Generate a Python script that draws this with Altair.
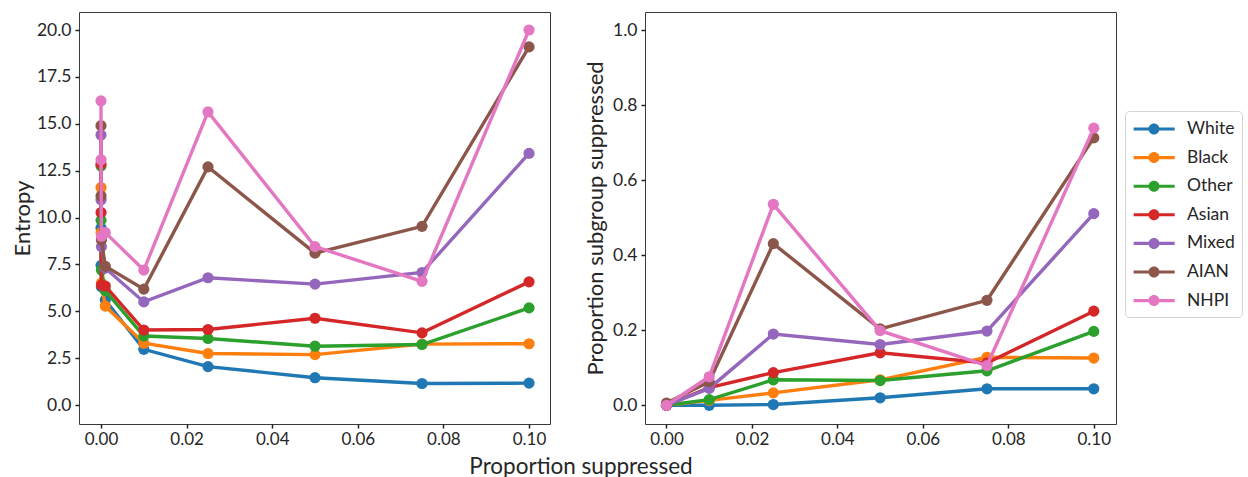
import altair as alt
import pandas as pd

FONT = "Lato"
TEXT = "#262626"

GROUPS = ["White", "Black", "Other", "Asian", "Mixed", "AIAN", "NHPI"]
COLORS = ["#1f77b4", "#ff7f0e", "#2ca02c", "#d62728", "#9467bd", "#8c564b", "#e377c2"]

# Left panel: entropy by proportion suppressed
entropy_x = [0.0, 0.00001, 0.0001, 0.001, 0.01, 0.025, 0.05, 0.075, 0.1]
entropy_white = [9.45, 7.45, 6.3, 5.6, 2.97, 2.05, 1.46, 1.15, 1.17]
entropy_black = [11.6, 9.2, 6.5, 5.28, 3.3, 2.75, 2.69, 3.25, 3.27]
entropy_other = [12.75, 9.85, 7.2, 6.1, 3.68, 3.55, 3.14, 3.23, 5.18]
entropy_asian = [12.85, 10.27, 6.4, 6.35, 4.0, 4.03, 4.63, 3.85, 6.57]
entropy_mixed = [14.4, 10.95, 8.45, 7.3, 5.5, 6.79, 6.45, 7.07, 13.42]
entropy_aian = [14.9, 11.15, 8.8, 7.4, 6.18, 12.7, 8.1, 9.53, 19.1]
entropy_nhpi = [16.22, 13.08, 9.0, 9.2, 7.2, 15.63, 8.45, 6.6, 20.0]

# Right panel: share of each subgroup that ends up suppressed
subgroup_x = [0.0, 0.01, 0.025, 0.05, 0.075, 0.1]
subgroup_white = [0.0, 0.0, 0.002, 0.02, 0.044, 0.044]
subgroup_black = [0.0, 0.013, 0.033, 0.068, 0.128, 0.126]
subgroup_other = [0.0, 0.015, 0.068, 0.066, 0.092, 0.197]
subgroup_asian = [0.0, 0.047, 0.087, 0.14, 0.113, 0.251]
subgroup_mixed = [0.0, 0.045, 0.19, 0.162, 0.198, 0.511]
subgroup_aian = [0.006, 0.063, 0.431, 0.204, 0.28, 0.713]
subgroup_nhpi = [0.0, 0.076, 0.536, 0.199, 0.106, 0.739]

entropy_series = [entropy_white, entropy_black, entropy_other, entropy_asian,
                  entropy_mixed, entropy_aian, entropy_nhpi]
subgroup_series = [subgroup_white, subgroup_black, subgroup_other, subgroup_asian,
                   subgroup_mixed, subgroup_aian, subgroup_nhpi]


def long_table(xs, series):
    rows = []
    for g, vals in zip(GROUPS, series):
        for x, v in zip(xs, vals):
            rows.append({"group": g, "x": x, "y": v})
    return pd.DataFrame(rows)


entropy_df = long_table(entropy_x, entropy_series)
subgroup_df = long_table(subgroup_x, subgroup_series)

color_scale = alt.Scale(domain=GROUPS, range=COLORS)

# legend glyph: a short line with a dot on it
LEGEND_GLYPH = (
    "M-0.85,-0.14 L2.88,-0.14 L2.88,0.14 L-0.85,0.14 Z "
    "M1.5,0 A0.5,0.5 0 1,1 0.5,0 A0.5,0.5 0 1,1 1.5,0 Z"
)

legend = alt.Legend(
    title=None, orient="none", legendX=1046, legendY=99,
    symbolType=LEGEND_GLYPH, symbolSize=484, symbolStrokeWidth=0, symbolOpacity=1,
    labelFont=FONT, labelFontSize=17.5, labelColor=TEXT, labelOffset=33,
    rowPadding=8.6, padding=7, strokeColor="#d4d4d4", fillColor="white",
    cornerRadius=4,
)

W, H = 471, 412


def panel(df, xdomain, ydomain, yticks, yfmt, ytitle, ytitle_x, xaxis_title):
    xaxis = alt.Axis(
        values=[0.0, 0.02, 0.04, 0.06, 0.08, 0.1], format=".2f", grid=False,
        domain=False, tickSize=4, tickWidth=1.5, tickColor="#222",
        labelFont=FONT, labelFontSize=17, labelColor=TEXT, labelPadding=3,
        **xaxis_title,
    )
    yaxis = alt.Axis(
        values=yticks, format=yfmt, grid=False, domain=False, tickSize=4,
        tickWidth=1.5, tickColor="#222", labelFont=FONT, labelFontSize=17.5,
        labelColor=TEXT, labelPadding=4, title=ytitle, titleFont=FONT,
        titleFontSize=22, titleFontWeight="normal", titleColor=TEXT,
        titleX=ytitle_x, titleY=H / 2, titleBaseline="middle", titleAngle=270,
        titleAlign="center",
    )
    x = alt.X("x:Q", scale=alt.Scale(domain=xdomain, nice=False, zero=False), axis=xaxis)
    y = alt.Y("y:Q", scale=alt.Scale(domain=ydomain, nice=False, zero=False), axis=yaxis)
    layers = []
    for g in GROUPS:
        base = alt.Chart(df).transform_filter(alt.datum.group == g)
        # dots first so the merged legend takes the filled symbol
        layers.append(
            base.mark_point(filled=True, size=125, opacity=1).encode(
                x=x, y=y, color=alt.Color("group:N", scale=color_scale, legend=legend)
            )
        )
        layers.append(
            base.mark_line(strokeWidth=3.4, opacity=1).encode(
                x=x, y=y, color=alt.Color("group:N", scale=color_scale)
            )
        )
    return alt.layer(*layers).properties(width=W, height=H)


left = panel(
    entropy_df, [-0.00514, 0.1049], [-1.01, 20.96],
    [0, 2.5, 5, 7.5, 10, 12.5, 15, 17.5, 20], ".1f", "Entropy", -57,
    dict(title="Proportion suppressed", titleFont=FONT, titleFontSize=22.5,
         titleFontWeight="normal", titleColor=TEXT, titleX=501.5, titleY=49,
         titleAlign="center", titleBaseline="alphabetic"),
)
right = panel(
    subgroup_df, [-0.00503, 0.1052], [-0.0499, 1.0488],
    [0, 0.2, 0.4, 0.6, 0.8, 1.0], ".1f", "Proportion subgroup suppressed", -50,
    dict(title=None),
)

chart = (
    alt.hconcat(left, right, spacing=95, bounds="flush")
    .properties(padding={"left": 10, "top": 11, "right": 5, "bottom": 5},
                background="white")
    .configure_view(stroke="#3a3a3a", strokeWidth=1)
)

chart.save("out.html", embed_options={"renderer": "svg", "actions": False})
